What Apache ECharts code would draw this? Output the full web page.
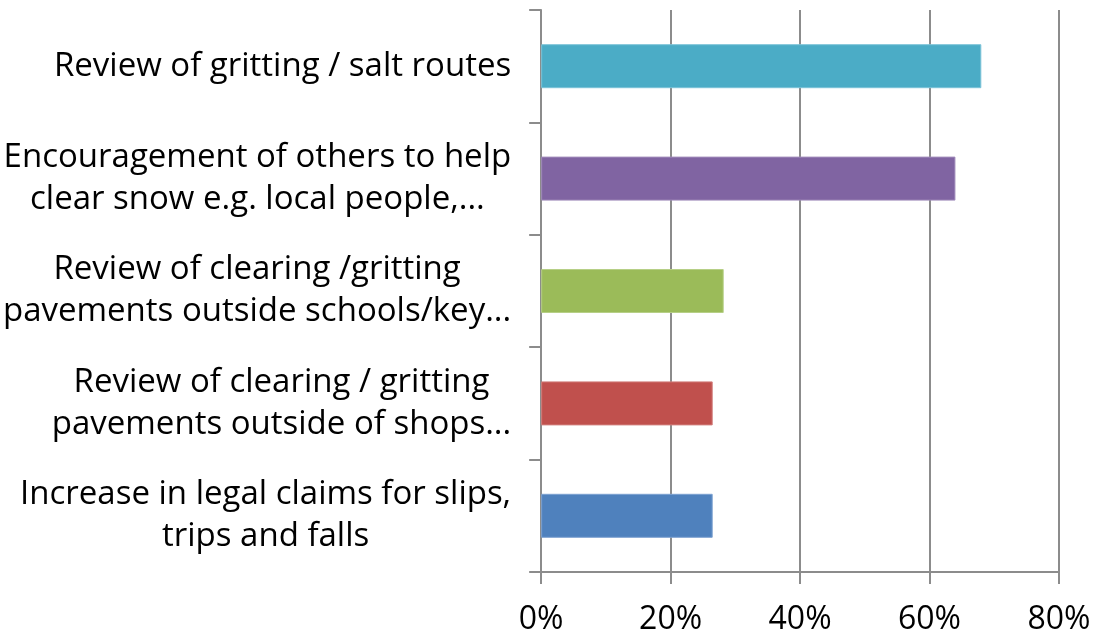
<!DOCTYPE html>
<html>
<head>
<meta charset="utf-8">
<script src="https://cdn.jsdelivr.net/npm/echarts@6/dist/echarts.min.js"></script>
<style>
  html, body { margin: 0; padding: 0; background: #fff; }
  #main { width: 1095px; height: 642px; }
</style>
</head>
<body>
<div id="main"></div>
<script>
// categories top to bottom, each line of the label is one entry
var categories = [
    ['Review of gritting / salt routes'],
    ['Encouragement of others to help', 'clear snow e.g. local people,...'],
    ['Review of clearing /gritting', 'pavements outside schools/key...'],
    ['Review of clearing / gritting', 'pavements outside of shops...'],
    ['Increase in legal claims for slips,', 'trips and falls']
];
var values = [68, 64, 28.2, 26.5, 26.5];
var barColors = ['#4BACC6', '#8064A2', '#9BBB59', '#C0504D', '#4F81BD'];
var borderColors = ['#7cc3d8', '#a08bbb', '#b6cf86', '#d27d7b', '#7da2d1'];
var xTicks = [0, 20, 40, 60, 80];

var myChart = echarts.init(document.getElementById('main'));

var option = {
    animation: false,
    grid: {
        left: 541,
        right: 36,
        top: 10,
        bottom: 70
    },
    xAxis: {
        type: 'value',
        min: xTicks[0],
        max: xTicks[xTicks.length - 1],
        interval: 20,
        axisLine: { show: true, lineStyle: { color: '#8c8c8c', width: 2 } },
        axisTick: { show: true, length: 12, lineStyle: { color: '#8c8c8c', width: 2 } },
        splitLine: { show: true, lineStyle: { color: '#8c8c8c', width: 2 } },
        axisLabel: {
            formatter: '{value}%',
            fontFamily: 'Open Sans',
            fontSize: 32,
            color: '#000',
            margin: 32
        }
    },
    yAxis: {
        type: 'category',
        inverse: true,
        data: categories.map(function (c) { return c.join('\n'); }),
        axisLine: { show: true, lineStyle: { color: '#8c8c8c', width: 2 } },
        axisTick: { show: true, length: 12, lineStyle: { color: '#8c8c8c', width: 2 } },
        axisLabel: {
            margin: 30,
            formatter: function (val) {
                return val.split('\n').map(function (l) { return '{a|' + l + '}'; }).join('\n');
            },
            rich: {
                a: {
                    align: 'center',
                    fontFamily: 'Open Sans',
                    fontSize: 33,
                    lineHeight: 42,
                    color: '#000'
                }
            }
        }
    },
    series: [{
        type: 'bar',
        barWidth: 44,
        data: values.map(function (v, i) {
            return {
                value: v,
                itemStyle: { color: barColors[i], borderColor: borderColors[i], borderWidth: 1 }
            };
        })
    }]
};

myChart.setOption(option);
</script>
</body>
</html>
